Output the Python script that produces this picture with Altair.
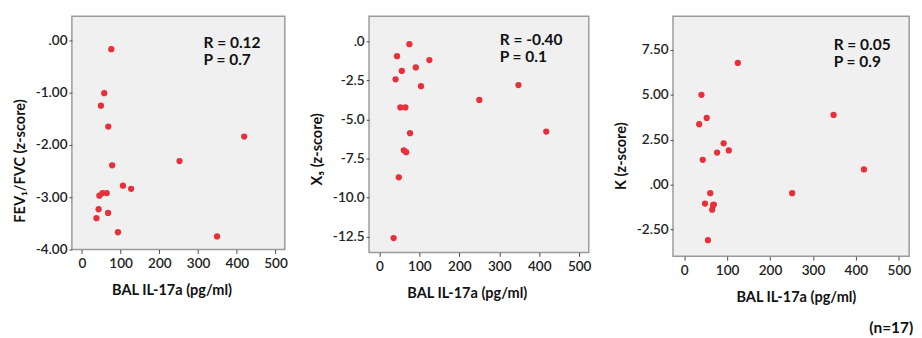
import altair as alt
import pandas as pd

# BAL IL-17a (pg/ml) and z-scores
x1 = [75.8, 57.5, 49, 68, 419, 252, 78, 106, 127, 45, 53, 64, 43, 67.5, 37.5, 93, 349]
y1 = [-0.17, -1.01, -1.25, -1.65, -1.84, -2.31, -2.39, -2.78, -2.84, -2.97, -2.92, -2.92, -3.23, -3.30, -3.40, -3.67, -3.75]

x2 = [75, 44, 125, 91, 56, 40.4, 104, 348, 250, 52.5, 65, 76.6, 417.6, 61, 67, 48.5, 35.5]
y2 = [-0.19, -0.95, -1.20, -1.67, -1.90, -2.43, -2.87, -2.80, -3.75, -4.23, -4.23, -5.88, -5.77, -6.97, -7.09, -8.70, -12.58]

x3 = [125, 40.3, 52.5, 35, 348, 92, 104, 76.7, 43.3, 418.7, 60.8, 251.6, 48.6, 67.6, 65.3, 55.4, 69]
y3 = [6.78, 5.0, 3.71, 3.36, 3.88, 2.30, 1.90, 1.78, 1.38, 0.84, -0.48, -0.48, -1.06, -1.15, -1.40, -3.10, -1.12]

x_ticks = [0, 100, 200, 300, 400, 500]
y1_ticks = [0, -1, -2, -3, -4]
y2_ticks = [0, -2.5, -5, -7.5, -10, -12.5]
y3_ticks = [7.5, 5, 2.5, 0, -2.5]

stats = [("R = 0.12", "P = 0.7"), ("R = -0.40", "P = 0.1"), ("R = 0.05", "P = 0.9")]
y_titles = ["FEV\u2081/FVC (z-score)", "X\u2085 (z-score)", "K (z-score)"]
x_title = "BAL IL-17a (pg/ml)"

FONT = "Lato"
RED = "#e8303a"


def label_expr(dec):
    z = "." + "0" * dec
    return (f"datum.value == 0 ? '{z}' : (datum.value < 0 ? '-' : '') + "
            f"format(abs(datum.value), '.{dec}f')")


def panel(xs, ys, ytitle, yticks, ydomain, dec, stat, w, h, tx, ty, xtx, yty):
    df = pd.DataFrame({"x": xs, "y": ys})
    xenc = alt.X("x:Q", title=x_title,
                 scale=alt.Scale(domain=[-26, 524], nice=False, zero=False),
                 axis=alt.Axis(values=x_ticks, format="d", titleX=xtx))
    yenc = alt.Y("y:Q", title=ytitle,
                 scale=alt.Scale(domain=ydomain, nice=False, zero=False),
                 axis=alt.Axis(values=yticks, labelExpr=label_expr(dec), titleY=yty))
    pts = alt.Chart(df).mark_circle(size=42, opacity=1, color=RED).encode(x=xenc, y=yenc)
    layers = [pts]
    for i, s in enumerate(stat):
        tdf = pd.DataFrame({"t": [s]})
        layers.append(
            alt.Chart(tdf).mark_text(align="left", baseline="middle", font=FONT,
                                     fontSize=16, fontWeight="bold", color="#111").encode(
                x=alt.value(tx), y=alt.value(ty + 17 * i), text="t:N"))
    return alt.layer(*layers).properties(width=w, height=h)


p1 = panel(x1, y1, y_titles[0], y1_ticks, [-4.0, 0.46], 2, stats[0], 220, 241, 136, 28, 103, 149)
p2 = panel(x2, y2, y_titles[1], y2_ticks, [-13.5, 1.6], 1, stats[1], 227, 244, 135, 25, 101, 137)
p3 = panel(x3, y3, y_titles[2], y3_ticks, [-4.0, 9.38], 2, stats[2], 244, 248, 166, 30, 127, 144)

chart = alt.hconcat(p1, p2, p3, spacing=21).properties(
    padding={"left": 4, "top": 2, "right": 0, "bottom": 0},
    title=alt.TitleParams("(n=17)", orient="bottom", anchor="end", font=FONT,
                          fontSize=16, fontWeight="bold", color="#111", offset=15, dx=2),
).configure_view(
    fill="#f0f0f0", stroke="#9a9a9a", strokeWidth=1.5
).configure_axis(
    grid=False, domain=False, labelFont=FONT, labelFontSize=14, labelColor="#222",
    labelFontWeight=600, titleFont=FONT, titleFontSize=15, titleFontWeight="bold",
    titleColor="#111", tickColor="#444",
    labelFlush=False, labelOverlap=False
).configure_axisX(
    tickSize=4, labelPadding=4, titlePadding=13
).configure_axisY(
    tickSize=3, labelPadding=2, titlePadding=8
)

chart.save("out.html", embed_options={"renderer": "svg", "actions": False})
